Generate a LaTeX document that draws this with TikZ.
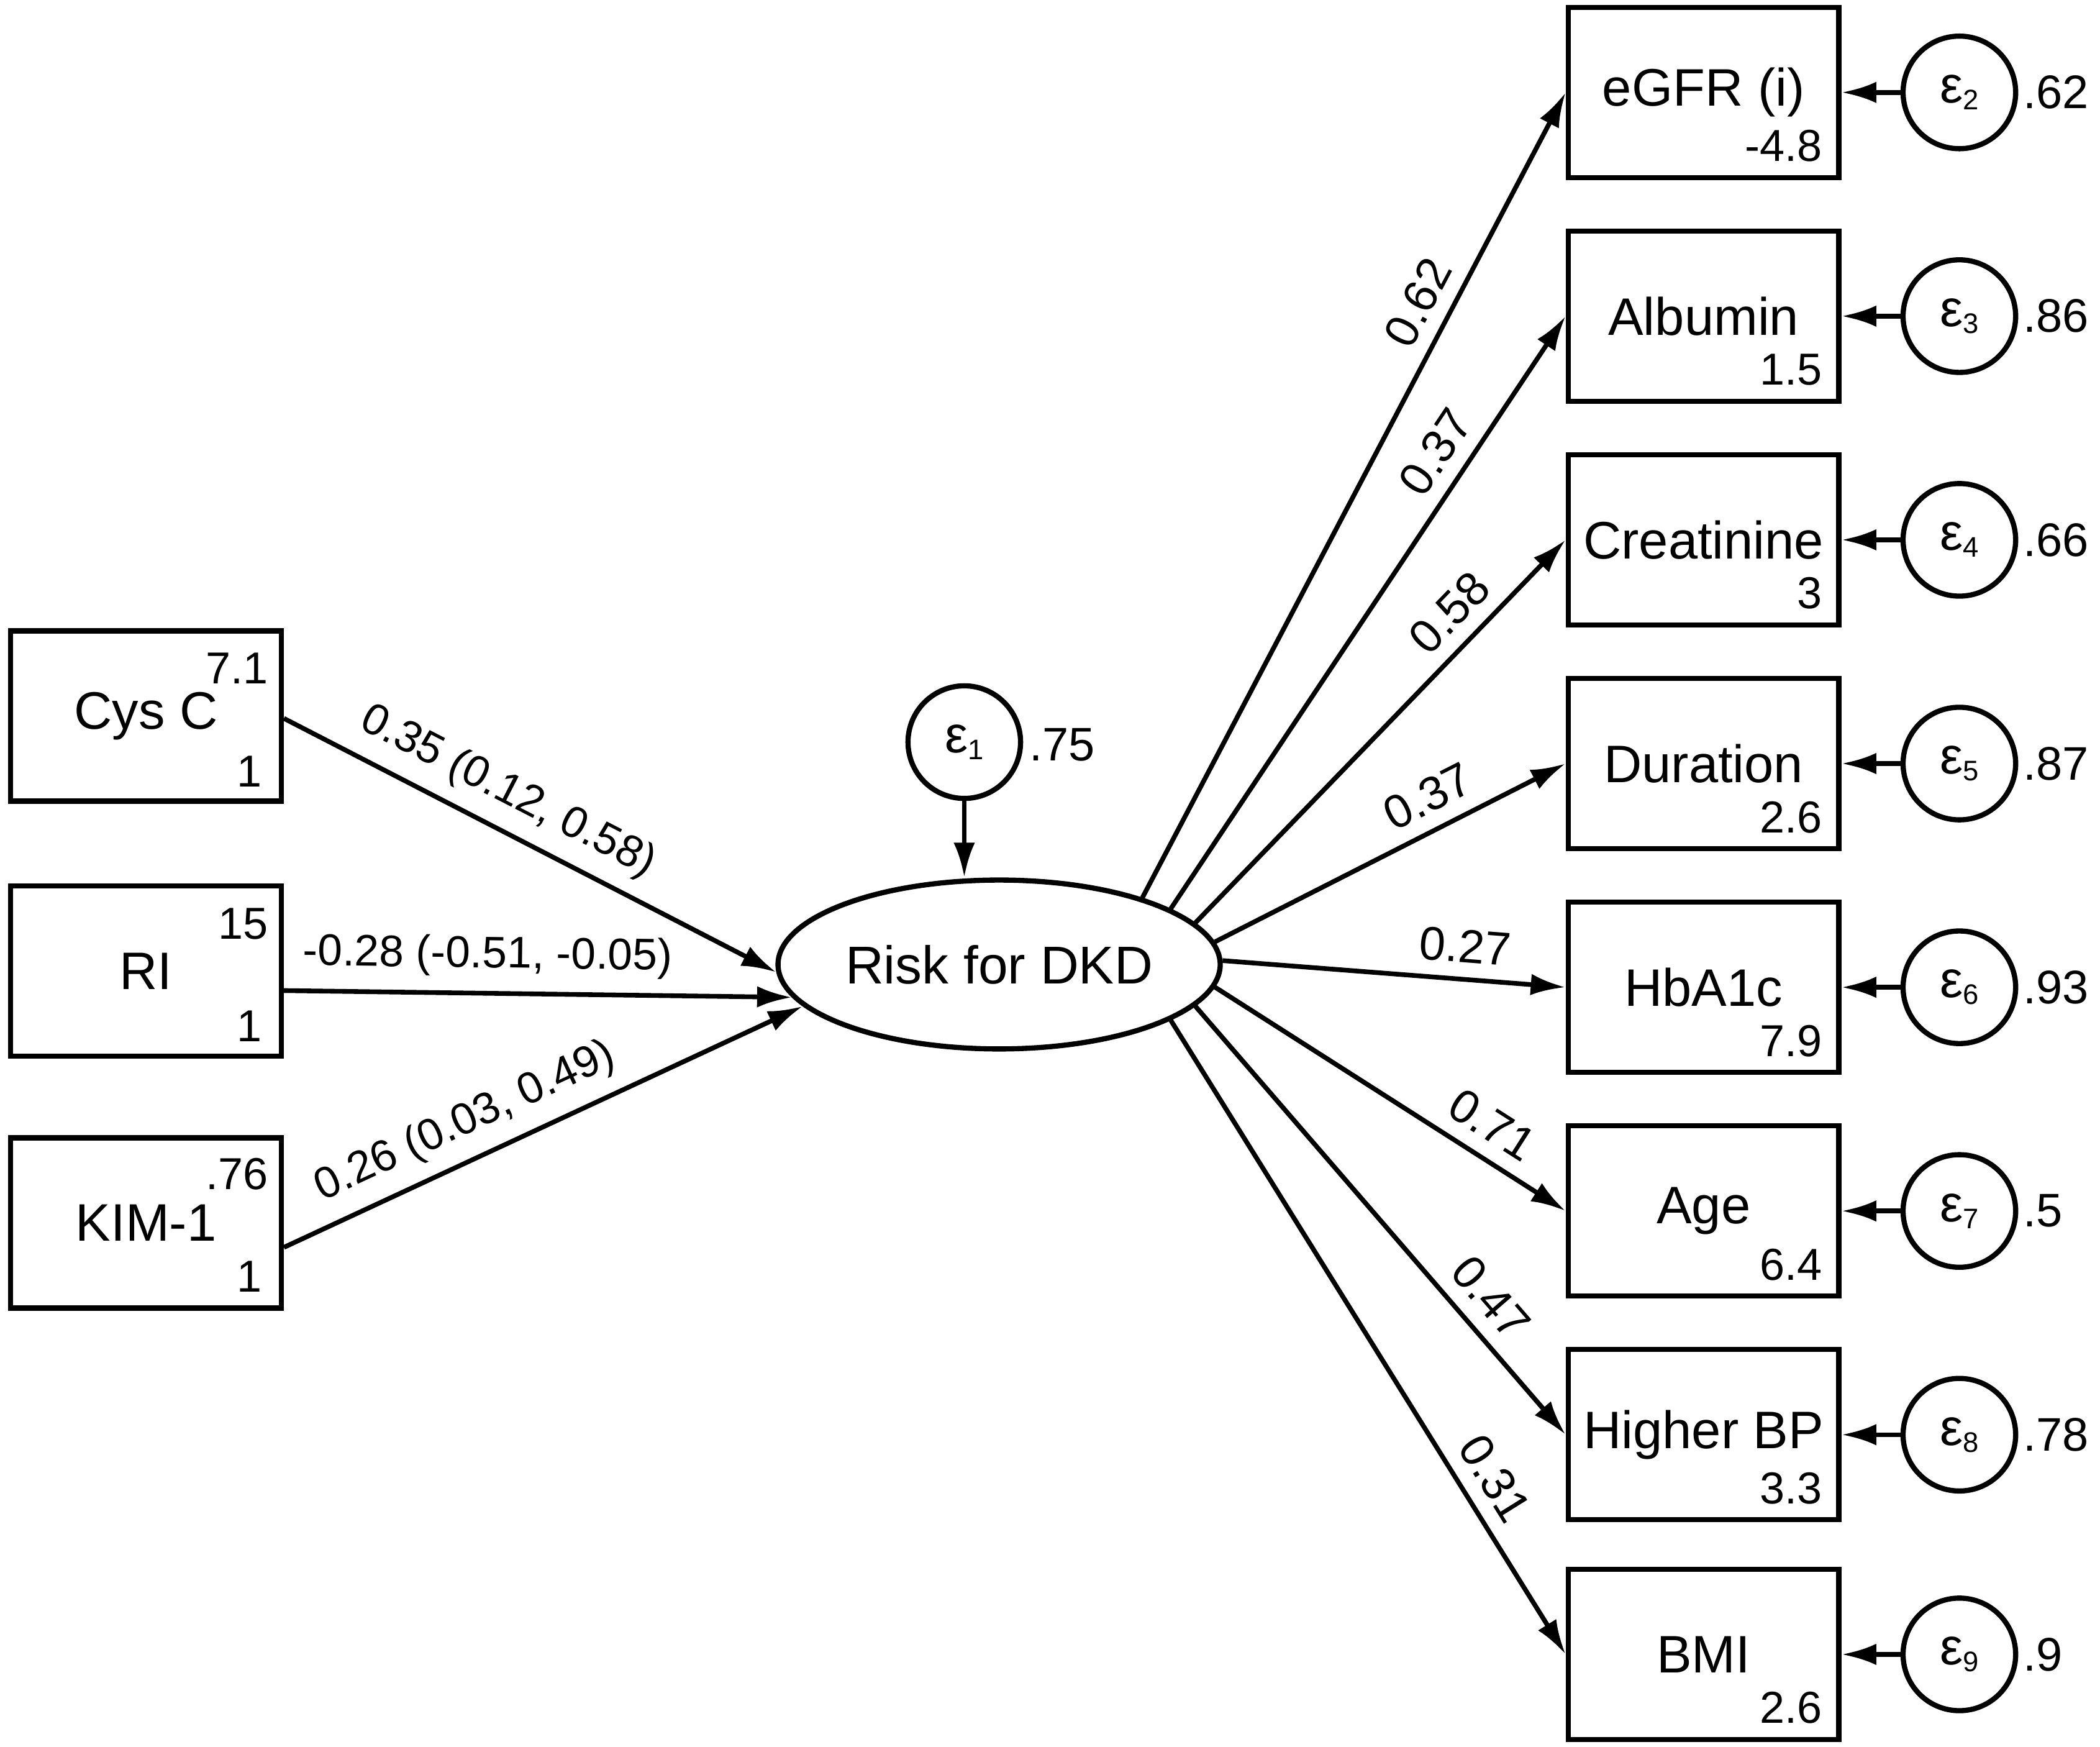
\documentclass[tikz,border=0pt]{standalone}
\usepackage{fontspec}
\setmainfont{Liberation Sans}
\usetikzlibrary{arrows.meta,shapes.geometric}
\newcommand{\errsub}[1]{ε\raisebox{-0.25ex}{\fontsize{6}{6}\selectfont #1}}
\tikzset{
  obs/.style={draw, line width=1.1pt, rectangle, minimum width=2.02cm, minimum height=1.27cm, inner sep=0pt, font=\fontsize{11.2}{13}\selectfont},
  lat/.style={draw, line width=1.1pt, ellipse, minimum width=3.3cm, minimum height=1.26cm, inner sep=0pt, font=\fontsize{11.3}{13}\selectfont},
  err/.style={draw, line width=1.1pt, circle, minimum size=0.84cm, inner sep=0pt, font=\fontsize{11}{13}\selectfont},
  num/.style={inner sep=0pt, font=\fontsize{9.5}{11}\selectfont},
  var/.style={inner sep=0pt, font=\fontsize{10}{12}\selectfont},
  coef/.style={sloped, above, inner sep=3pt, font=\fontsize{10}{12}\selectfont},
  ci/.style={coef, font=\fontsize{9.4}{11}\selectfont},
  link/.style={line width=1pt, -{Latex[length=2.6mm, width=1.6mm]}},
}
\begin{document}
\begin{tikzpicture}[x=0.01cm, y=-0.01cm]
\useasboundingbox (0,0) rectangle (1568,1304);
% causes
\node[obs] (cysc) at (109,534.5){Cys C};
\node[num, anchor=east] (cyscm) at (201,499){7.1};
\node[num, anchor=east] (cyscv) at (196,576){1};
\node[obs] (ri) at (109,725){RI};
\node[num, anchor=east] (rim) at (201,689.5){15};
\node[num, anchor=east] (riv) at (196,766){1};
\node[obs] (kim) at (109,913){KIM-1};
\node[num, anchor=east] (kimm) at (201,876.5){.76};
\node[num, anchor=east] (kimv) at (196,953){1};
% latent
\node[lat] (risk) at (746,720){Risk for DKD};
\node[err] (e1) at (720,554){\errsub{1}};
\node[var, anchor=west] (e1v) at (768,556){.75};
\draw[link](e1) -- (e1 |- risk.north);
\draw[link](cysc.-1) -- node[ci, pos=0.42]{0.35 (0.12, 0.58)} (risk.182);
\draw[link](ri.-8.5) -- node[ci, pos=0.40]{-0.28 (-0.51, -0.05)} (risk.189);
\draw[link](kim.-10) -- node[ci, pos=0.38]{0.26 (0.03, 0.49)} (risk.192);
% indicators
\node[obs] (egfr) at (1272,69){eGFR (i)};
\node[num, anchor=east] (egfrv) at (1361,109){-4.8};
\node[err] (e2) at (1463,69){\errsub{2}};
\node[var, anchor=west] (e2v) at (1510,69){.62};
\draw[link](e2) -- (egfr);
\draw[link](risk.25) -- node[coef, pos=0.72]{0.62} (egfr.west);

\node[obs] (alb) at (1272,236){Albumin};
\node[num, anchor=east] (albv) at (1361,276){1.5};
\node[err] (e3) at (1463,236){\errsub{3}};
\node[var, anchor=west] (e3v) at (1510,236){.86};
\draw[link](e3) -- (alb);
\draw[link](risk.18) -- node[coef, pos=0.74]{0.37} (alb.west);

\node[obs] (crea) at (1272,403){Creatinine};
\node[num, anchor=east] (creav) at (1361,443){3};
\node[err] (e4) at (1463,403){\errsub{4}};
\node[var, anchor=west] (e4v) at (1510,403){.66};
\draw[link](e4) -- (crea);
\draw[link](risk.12) -- node[coef, pos=0.75]{0.58} (crea.west);

\node[obs] (dur) at (1272,570){Duration};
\node[num, anchor=east] (durv) at (1361,610){2.6};
\node[err] (e5) at (1463,570){\errsub{5}};
\node[var, anchor=west] (e5v) at (1510,570){.87};
\draw[link](e5) -- (dur);
\draw[link](risk.6) -- node[coef, pos=0.65]{0.37} (dur.west);

\node[obs] (hba) at (1272,737){HbA1c};
\node[num, anchor=east] (hbav) at (1361,777){7.9};
\node[err] (e6) at (1463,737){\errsub{6}};
\node[var, anchor=west] (e6v) at (1510,737){.93};
\draw[link](e6) -- (hba);
\draw[link](risk.1) -- node[coef, pos=0.70]{0.27} (hba.west);

\node[obs] (age) at (1272,904){Age};
\node[num, anchor=east] (agev) at (1361,944){6.4};
\node[err] (e7) at (1463,904){\errsub{7}};
\node[var, anchor=west] (e7v) at (1510,904){.5};
\draw[link](e7) -- (age);
\draw[link](risk.-6) -- node[coef, pos=0.74]{0.71} (age.west);

\node[obs] (bp) at (1272,1071){Higher BP};
\node[num, anchor=east] (bpv) at (1361,1111){3.3};
\node[err] (e8) at (1463,1071){\errsub{8}};
\node[var, anchor=west] (e8v) at (1510,1071){.78};
\draw[link](e8) -- (bp);
\draw[link](risk.-12) -- node[coef, pos=0.73]{0.47} (bp.west);

\node[obs] (bmi) at (1272,1235){BMI};
\node[num, anchor=east] (bmiv) at (1361,1275){2.6};
\node[err] (e9) at (1463,1235){\errsub{9}};
\node[var, anchor=west] (e9v) at (1510,1235){.9};
\draw[link](e9) -- (bmi);
\draw[link](risk.-18) -- node[coef, pos=0.75]{0.31} (bmi.west);

\end{tikzpicture}
\end{document}
